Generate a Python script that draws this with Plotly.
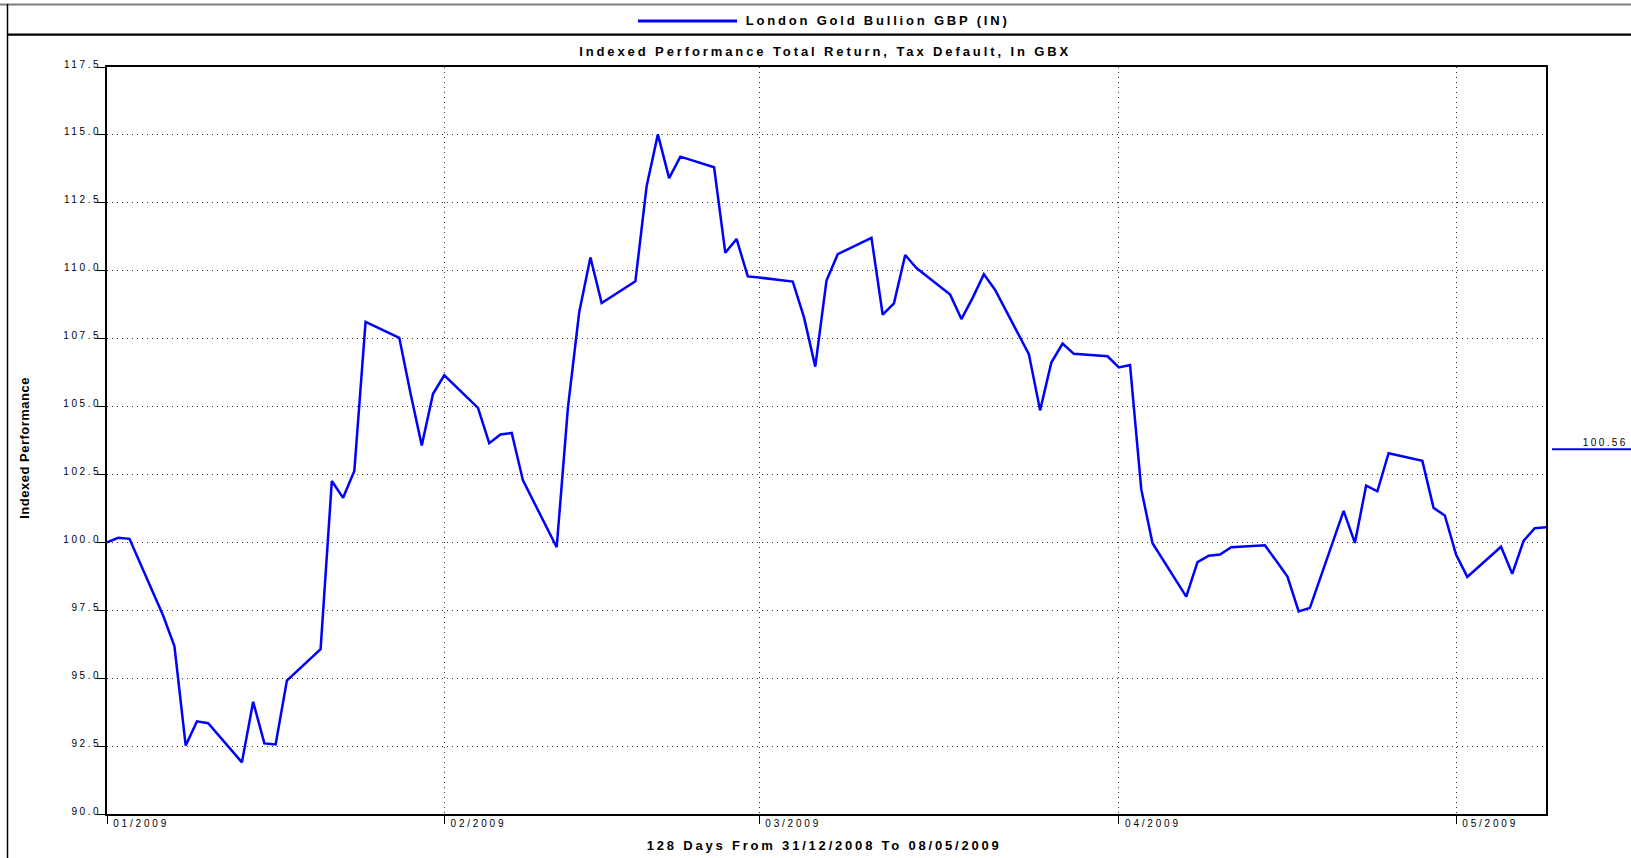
import pandas as pd
import plotly.graph_objects as go

# ---------------- data ----------------
dates = pd.bdate_range("2008-12-31", "2009-05-08")   # trading days (weekdays)
values = [
    100.00,                                                    # Dec 31
    100.17, 100.13, 97.30, 96.17, 92.52, 93.41, 93.34, 91.90,  # Jan 1 - Jan 12
    94.13, 92.60, 92.56, 94.91, 96.07, 102.26, 101.64, 102.63, # Jan 13 - Jan 22
    108.12, 107.53, 105.48, 103.57, 105.47, 106.15,            # Jan 23 - Jan 30
    104.95, 103.65, 103.97, 104.03, 102.28, 99.82, 104.96,     # Feb 2 - Feb 10
    108.46, 110.49, 108.81, 109.61, 113.11, 115.02, 113.41,    # Feb 11 - Feb 19
    114.20, 113.81, 110.66, 111.17, 109.79, 109.75,            # Feb 20 - Feb 27
    109.60, 108.28, 106.47, 109.64, 110.61, 111.21, 108.38,    # Mar 2 - Mar 10
    108.80, 110.58, 110.10, 109.12, 108.22, 109.00, 109.87,    # Mar 11 - Mar 19
    109.29, 106.93, 104.86, 106.62, 107.32, 106.94, 106.85,    # Mar 20 - Mar 30
    106.44,                                                    # Mar 31
    106.53, 101.95, 99.97, 98.00, 99.27, 99.51, 99.55, 99.82,  # Apr 1 - Apr 10
    99.89, 99.32, 98.74, 97.46, 97.59, 101.16, 99.98, 102.09,  # Apr 13 - Apr 22
    101.88, 103.28, 103.00, 101.27, 100.99, 99.55,             # Apr 23 - Apr 30
    98.73, 99.84, 98.84, 100.05, 100.52, 100.56,               # May 1 - May 8
]
assert len(dates) == len(values)

tick_dates = ["2008-12-31", "2009-01-30", "2009-02-27", "2009-03-31", "2009-04-30"]
tick_labels = ["01/2009", "02/2009", "03/2009", "04/2009", "05/2009"]
y_min, y_max, y_step = 90.0, 117.5, 2.5

series_name = "London Gold Bullion GBP (IN)"
chart_title = "Indexed Performance Total Return, Tax Default, In GBX"
y_title = "Indexed Performance"
n_days = (dates[-1] - dates[0]).days
x_title = f"{n_days} Days From {dates[0]:%d/%m/%Y} To {dates[-1]:%d/%m/%Y}"
last_label = f"{values[-1]:.2f}"

# ---------------- style / geometry ----------------
W, H = 1631, 858
L, R, T, B = 107, 85, 67, 44
PW, PH = W - L - R, H - T - B
LINE = "#0000FF"
FONT = "Liberation Sans, Arial, Helvetica, sans-serif"


def px(x):
    return (x - L) / PW


def py(y):
    return (H - B - y) / PH


fig = go.Figure()
fig.add_trace(go.Scatter(
    x=dates, y=values, mode="lines", name=series_name,
    line=dict(color=LINE, width=2.5), showlegend=False,
))

fig.update_layout(
    width=W, height=H, autosize=False,
    margin=dict(l=L, r=R, t=T, b=B, pad=0, autoexpand=False),
    paper_bgcolor="white", plot_bgcolor="white",
    font=dict(family=FONT, size=10, color="black"),
    showlegend=False,
)

fig.update_xaxes(
    type="date", range=[dates[0], dates[-1]],
    tickmode="array", tickvals=tick_dates, ticktext=tick_labels,
    ticks="outside", ticklen=8, tickwidth=1, tickcolor="black",
    ticklabelposition="outside right", ticklabelstandoff=-1, ticklabelshift=5,
    tickfont=dict(size=10, color="black", family=FONT),
    showline=True, linecolor="black", linewidth=1.5, mirror=True,
    showgrid=True, gridcolor="#333333", gridwidth=1, griddash="1px,4px",
    zeroline=False,
)
fig.update_yaxes(
    range=[y_min, y_max], tick0=y_min, dtick=y_step, tickformat=".1f",
    ticks="outside", ticklen=8, tickwidth=1, tickcolor="black",
    ticklabelstandoff=-6, ticklabelshift=-3,
    tickfont=dict(size=10, color="black", family=FONT),
    showline=True, linecolor="black", linewidth=1.5, mirror=True,
    showgrid=True, gridcolor="#333333", gridwidth=1, griddash="1px,4px",
    zeroline=False,
)

bold13 = dict(family=FONT, size=13, color="black", weight="bold")
annotations = [
    dict(text=chart_title, x=px(825), y=py(52), font=bold13),
    dict(text=series_name, x=px(877), y=py(21), font=bold13),
    dict(text=x_title, x=px(824), y=py(845), font=bold13),
    dict(text=y_title, x=px(24), y=py(448), textangle=-90, font=bold13),
    dict(text=last_label, x=px(1605), y=py(442), font=dict(family=FONT, size=10, color="black")),
]
for a in annotations:
    a.update(xref="paper", yref="paper", showarrow=False, xanchor="center", yanchor="middle")
fig.update_layout(annotations=annotations)

shapes = [
    # outer frame
    dict(type="line", x0=px(0), x1=px(W), y0=py(4.5), y1=py(4.5), line=dict(color="#7f7f7f", width=2)),
    dict(type="line", x0=px(7.5), x1=px(7.5), y0=py(4), y1=py(H), line=dict(color="black", width=1.5)),
    dict(type="line", x0=px(7.5), x1=px(W), y0=py(34.7), y1=py(34.7), line=dict(color="black", width=2.2)),
    # legend sample line
    dict(type="line", x0=px(638), x1=px(737), y0=py(21), y1=py(21), line=dict(color=LINE, width=3)),
    # last value marker line
    dict(type="line", x0=px(1552), x1=px(W + 5), y0=py(449.3), y1=py(449.3), line=dict(color=LINE, width=2)),
]
for s in shapes:
    s.update(xref="paper", yref="paper", layer="above")
fig.update_layout(shapes=shapes)

post = """
var gd = document.getElementById('{plot_id}');
document.body.style.margin = '0';
document.body.style.overflow = 'hidden';
function ls(sel, v) { gd.querySelectorAll(sel).forEach(function (e) { e.style.letterSpacing = v; }); }
ls('.xtick text', '2.8px');
ls('.ytick text', '2.6px');
ls('.annotation[data-index="0"] text', '2.9px');
ls('.annotation[data-index="1"] text', '2.8px');
ls('.annotation[data-index="2"] text', '2.8px');
ls('.annotation[data-index="3"] text', '0.5px');
ls('.annotation[data-index="4"] text', '2.4px');
"""

fig.write_html("out.html", config={"displayModeBar": False, "responsive": False}, post_script=post)
